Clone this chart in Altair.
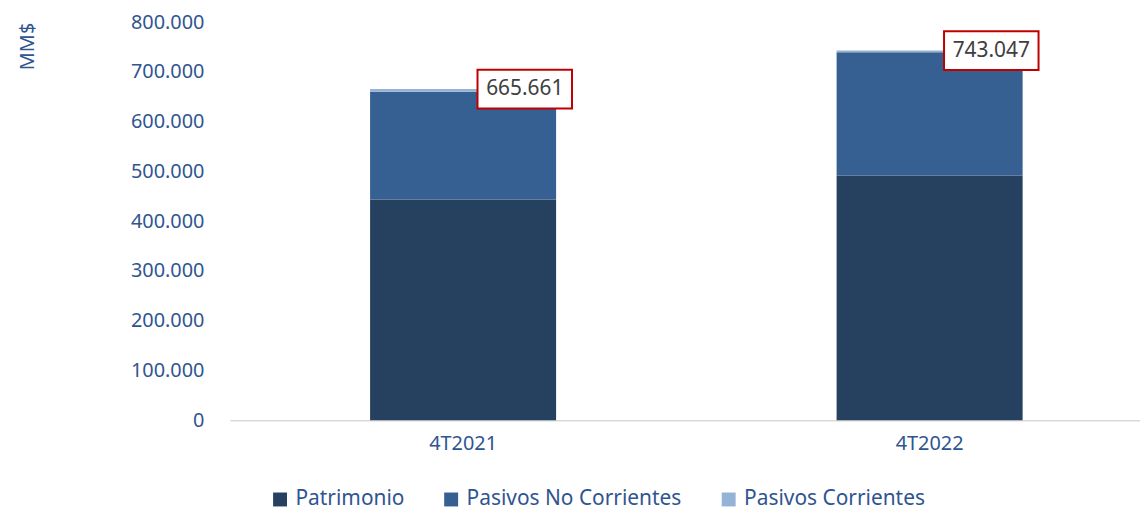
import altair as alt
import pandas as pd

periods = ["4T2021", "4T2022"]
series = ["Patrimonio", "Pasivos No Corrientes", "Pasivos Corrientes"]
patrimonio = [443500, 492000]
pasivos_nc = [217000, 247500]
pasivos_c = [5161, 3547]
totals = [665661, 743047]
total_labels = ["665.661", "743.047"]
colors = ["#26405F", "#376092", "#95B3D7"]

rows = []
for i, p in enumerate(periods):
    for k, (s, vals) in enumerate(zip(series, [patrimonio, pasivos_nc, pasivos_c])):
        rows.append({"periodo": p, "serie": s, "valor": vals[i], "orden": k})
df = pd.DataFrame(rows)
tot = pd.DataFrame({"periodo": periods, "total": totals, "label": total_labels})

FONT = "Noto Sans"
BLUE = "#2F5590"

xenc = alt.X("periodo:N", sort=periods,
             scale=alt.Scale(range=[2, 940], paddingInner=0, paddingOuter=0),
             axis=alt.Axis(title=None, labelAngle=0, ticks=False, domainColor="#D9D9D9",
                           domainWidth=1.5, labelFontSize=20, labelColor=BLUE,
                           labelPadding=14, labelFont=FONT))

bars = alt.Chart(df).mark_bar(size=187).encode(
    x=xenc,
    y=alt.Y("valor:Q", stack="zero",
            scale=alt.Scale(domain=[0, 800000], nice=False),
            axis=alt.Axis(title="MM$", values=list(range(0, 800001, 100000)),
                          labelExpr="replace(format(datum.value, ','), ',', '.')",
                          ticks=False, domain=False, grid=False,
                          labelFontSize=20, labelColor=BLUE, labelPadding=24, labelFont=FONT,
                          titleFontSize=20, titleColor=BLUE, titleFont=FONT, titleFontWeight="normal",
                          titleX=-201, titleY=0, titleAlign="right", titleBaseline="middle",
                          titleAngle=270)),
    color=alt.Color("serie:N", scale=alt.Scale(domain=series, range=colors),
                    legend=alt.Legend(title=None, orient="none", legendX=42, legendY=469,
                                      direction="horizontal", symbolType="square",
                                      symbolSize=196, symbolStrokeWidth=0,
                                      labelFontSize=21, labelColor=BLUE, labelFont=FONT,
                                      labelLimit=400, labelOffset=5, columnPadding=36)),
    order=alt.Order("orden:Q", sort="ascending"),
)

box = alt.Chart(tot).mark_point(
    shape="M-2.436,-1 H2.436 V1 H-2.436 Z", size=1521, filled=False,
    fill="white", fillOpacity=1, stroke="#C00000", strokeWidth=2, opacity=1, xOffset=62
).encode(x=alt.X("periodo:N", sort=periods), y="total:Q")

txt = alt.Chart(tot).mark_text(
    font=FONT, fontSize=21, color="#404040", align="center", baseline="middle", xOffset=62, dy=0
).encode(x=alt.X("periodo:N", sort=periods), y="total:Q", text="label:N")

chart = alt.layer(bars, box, txt).properties(
    width=917, height=400,
    autosize=alt.AutoSizeParams(type="none"),
    padding={"left": 221, "top": 13, "right": 0, "bottom": 90},
).configure(font=FONT).configure_view(stroke=None)

chart.save("out.html", embed_options={"renderer": "svg", "actions": False})
